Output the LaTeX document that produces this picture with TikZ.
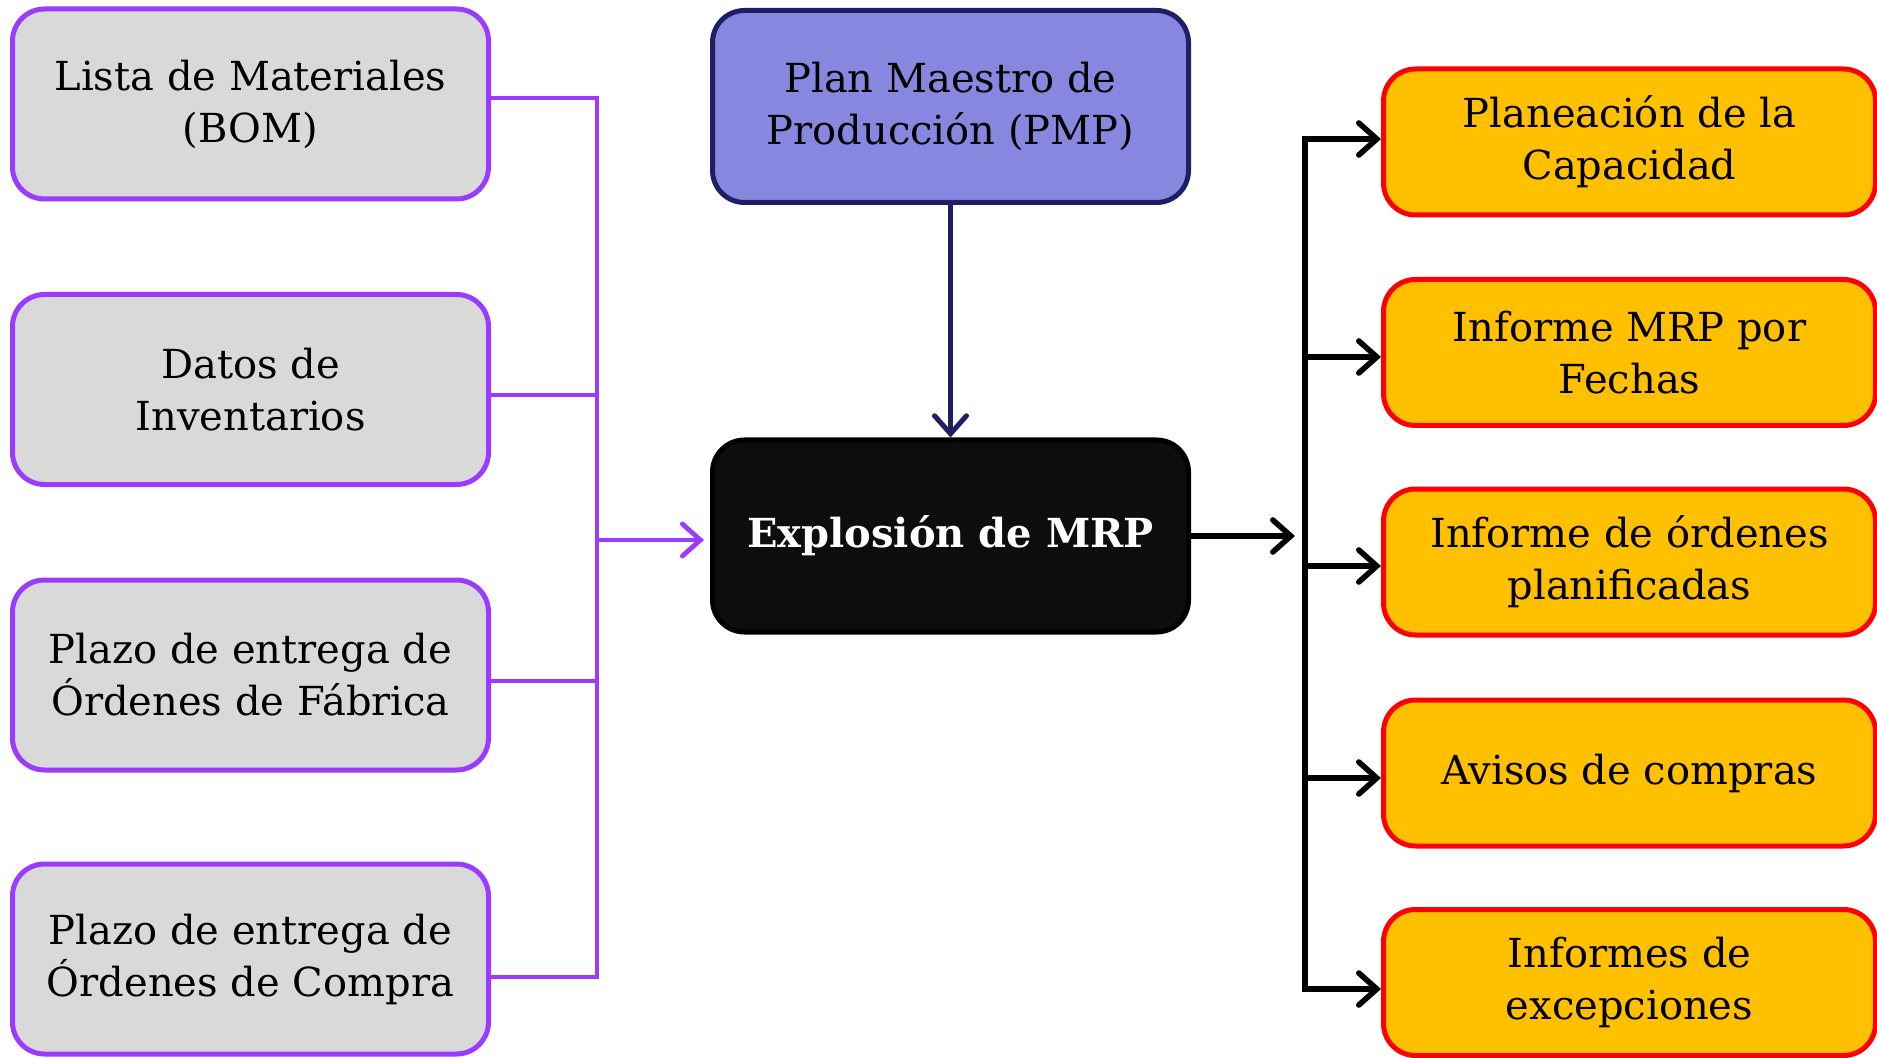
\documentclass[tikz,border=0pt]{standalone}
\usepackage{fontspec}
\setmainfont{DejaVu Serif}
\usetikzlibrary{arrows.meta}
\definecolor{boxgray}{HTML}{D9D9D9}
\definecolor{purp}{HTML}{9B3BFF}
\definecolor{pmpfill}{HTML}{8787E0}
\definecolor{navy}{HTML}{1F1F66}
\definecolor{orng}{HTML}{FFC000}
\definecolor{rred}{HTML}{FF0000}
\definecolor{nearblack}{HTML}{0D0D0D}
\tikzset{
  x=0.5pt,y=-0.5pt,
  inbox/.style={draw=purp,fill=boxgray,line width=2.5pt,rounded corners=16pt,
    minimum width=238pt,minimum height=95pt,align=center,
    font=\fontsize{20}{26}\selectfont},
  pmpbox/.style={draw=navy,fill=pmpfill,line width=2.5pt,rounded corners=16pt,
    minimum width=238pt,minimum height=96pt,align=center,
    font=\fontsize{20}{26}\selectfont},
  mrpbox/.style={draw=black,fill=nearblack,line width=2.5pt,rounded corners=16pt,
    minimum width=238pt,minimum height=96pt,align=center,text=white,
    font=\fontsize{20}{26}\selectfont\bfseries},
  outbox/.style={draw=rred,fill=orng,line width=2.5pt,rounded corners=16pt,
    minimum width=246pt,minimum height=73pt,align=center,
    font=\fontsize{20}{26}\selectfont},
  tip/.style={-{Straight Barb[length=9pt,width=16pt,line cap=round]}},
  purpline/.style={draw=purp,line width=2.4pt},
  blkline/.style={draw=black,line width=2.8pt},
  navyline/.style={draw=navy,line width=2.5pt},
}
\begin{document}
\begin{tikzpicture}
\useasboundingbox (0,0) rectangle (1877,1058);
% inputs
\node[inbox] (b1) at (250.5,104) {Lista de Materiales\\(BOM)};
\node[inbox] (b2) at (250.5,389.5) {Datos de\\Inventarios};
\node[inbox] (b3) at (250.5,675) {Plazo de entrega de\\Órdenes de Fábrica};
\node[inbox] (b4) at (250.5,959) {Plazo de entrega de\\Órdenes de Compra};
% center
\node[pmpbox] (pmp) at (950.5,106.5) {Plan Maestro de\\Producción (PMP)};
\node[mrpbox] (mrp) at (950.5,536) {Explosión de MRP};
% outputs
\node[outbox] (r1) at (1629.5,142) {Planeación de la\\Capacidad};
\node[outbox] (r2) at (1629.5,352.5) {Informe MRP por\\Fechas};
\node[outbox] (r3) at (1629.5,562) {Informe de órdenes\\planificadas};
\node[outbox] (r4) at (1629.5,773) {Avisos de compras};
\node[outbox] (r5) at (1629.5,982.5) {Informes de\\excepciones};
% junctions
\coordinate (pj) at (597,540);
\coordinate (bj) at (1305,536);
% purple collectors
\draw[purpline] ([yshift=3pt]b1.east) -| (pj);
\draw[purpline] ([yshift=-2.75pt]b2.east) -| (pj);
\draw[purpline] ([yshift=-3pt]b3.east) -| (pj);
\draw[purpline] ([yshift=-9pt]b4.east) -| (pj);
\draw[purpline,tip] (pj) -- ([xshift=-3pt]pj -| mrp.west);
% pmp to mrp
\draw[navyline,tip] (pmp.south) -- (mrp.north);
% mrp to distributor
\draw[blkline,tip] (mrp.east) -- ([xshift=-5pt]bj);
\draw[blkline,tip] (bj) |- ([yshift=1.5pt]r1.west);
\draw[blkline,tip] (bj) |- ([yshift=-2.25pt]r2.west);
\draw[blkline,tip] (bj) |- ([yshift=-2pt]r3.west);
\draw[blkline,tip] (bj) |- ([yshift=-2.5pt]r4.west);
\draw[blkline,tip] (bj) |- ([yshift=-3.25pt]r5.west);
\end{tikzpicture}
\end{document}
